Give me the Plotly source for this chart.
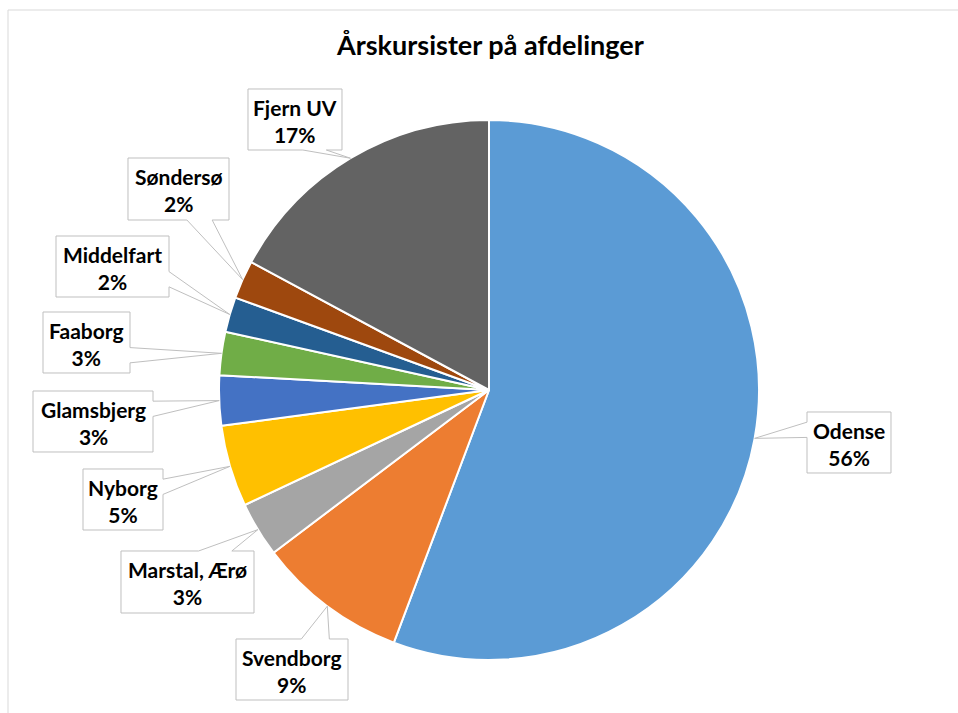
import math
import plotly.graph_objects as go

# ---- data ----
categories = ["Odense", "Svendborg", "Marstal, Ærø", "Nyborg", "Glamsbjerg",
              "Faaborg", "Middelfart", "Søndersø", "Fjern UV"]
values = [55.9, 9.0, 3.3, 4.9, 3.0, 2.6, 2.1, 2.3, 17.2]
colors = ["#5B9BD5", "#ED7D31", "#A5A5A5", "#FFC000", "#4472C4",
          "#70AD47", "#255E91", "#9E480E", "#636363"]
title_text = "Årskursister på afdelinger"

# ---- layout constants (pixels, top-left origin) ----
W, H = 958, 713
CX, CY, R = 489, 390, 270
# callout boxes: x0, y0, x1, y1
label_boxes = [
    (807, 412, 891, 473),   # Odense
    (236, 639, 348, 700),   # Svendborg
    (121, 551, 254, 613),   # Marstal, Ærø
    (83, 469, 163, 530),    # Nyborg
    (33, 391, 153, 452),    # Glamsbjerg
    (43, 312, 130, 373),    # Faaborg
    (56, 236, 169, 297),    # Middelfart
    (128, 158, 229, 220),   # Søndersø
    (248, 89, 342, 150),    # Fjern UV
]

FONT = "Lato, 'Open Sans', sans-serif"


def px(x):
    return x / W


def py(y):
    return 1 - y / H


fig = go.Figure()
fig.add_trace(go.Pie(
    labels=categories, values=values, sort=False, direction="clockwise",
    rotation=0, marker=dict(colors=colors, line=dict(color="white", width=2)),
    textinfo="none", hoverinfo="label+percent", showlegend=False,
    domain=dict(x=[px(CX - R), px(CX + R)], y=[py(CY + R), py(CY - R)]),
))

total = sum(values)
cum = 0.0
shapes = []
annotations = []
for i, (cat, v) in enumerate(zip(categories, values)):
    mid = (cum + v / 2) / total * 2 * math.pi
    cum += v
    P = (CX + R * math.sin(mid), CY - R * math.cos(mid))
    x0, y0, x1, y1 = label_boxes[i]
    w, h = x1 - x0, y1 - y0
    hc, vc = (x0 + x1) / 2, (y0 + y1) / 2
    dx, dy = P[0] - hc, P[1] - vc
    dq = dx * h / w
    xg1, xg2 = (7, 10) if dx > 0 else (2, 5)
    yg1, yg2 = (7, 10) if dy > 0 else (2, 5)
    xa, xb = x0 + w * xg1 / 12, x0 + w * xg2 / 12
    ya, yb = y0 + h * yg1 / 12, y0 + h * yg2 / 12
    if abs(dy) < abs(dq):
        if dx < 0:
            pts = [(x0, y0), (x1, y0), (x1, y1), (x0, y1), (x0, yb), P, (x0, ya)]
        else:
            pts = [(x0, y0), (x1, y0), (x1, ya), P, (x1, yb), (x1, y1), (x0, y1)]
    else:
        if dy < 0:
            pts = [(x0, y0), (xa, y0), P, (xb, y0), (x1, y0), (x1, y1), (x0, y1)]
        else:
            pts = [(x0, y0), (x1, y0), (x1, y1), (xb, y1), P, (xa, y1), (x0, y1)]
    path = "M " + " L ".join(f"{px(a):.5f},{py(b):.5f}" for a, b in pts) + " Z"
    shapes.append(dict(type="path", xref="paper", yref="paper", path=path,
                       fillcolor="white", line=dict(color="#BFBFBF", width=1)))
    pct = round(v / total * 100)
    annotations.append(dict(
        x=px(hc), y=py(vc + 1), xref="paper", yref="paper", showarrow=False,
        xanchor="center", yanchor="middle", align="center",
        text=f"<b>{cat}<br>{pct}%</b>",
        font=dict(family=FONT, size=21, color="#000000"),
    ))

# chart border
shapes.insert(0, dict(type="rect", xref="paper", yref="paper",
                      x0=px(8), y0=-0.05, x1=1.05, y1=py(10),
                      line=dict(color="#D9D9D9", width=1), fillcolor="rgba(0,0,0,0)"))

annotations.append(dict(
    x=px(490), y=py(44), xref="paper", yref="paper", showarrow=False,
    xanchor="center", yanchor="middle",
    text=f"<b>{title_text}</b>",
    font=dict(family=FONT, size=27, color="#000000"),
))

fig.update_layout(
    width=W, height=H, margin=dict(l=0, r=0, t=0, b=0),
    paper_bgcolor="white", plot_bgcolor="white",
    shapes=shapes, annotations=annotations,
)

fig.write_html(
    "out.html",
    config={"displayModeBar": False},
    post_script="document.documentElement.style.margin='0';"
                "document.body.style.margin='0';"
                "document.body.style.overflow='hidden';",
)
